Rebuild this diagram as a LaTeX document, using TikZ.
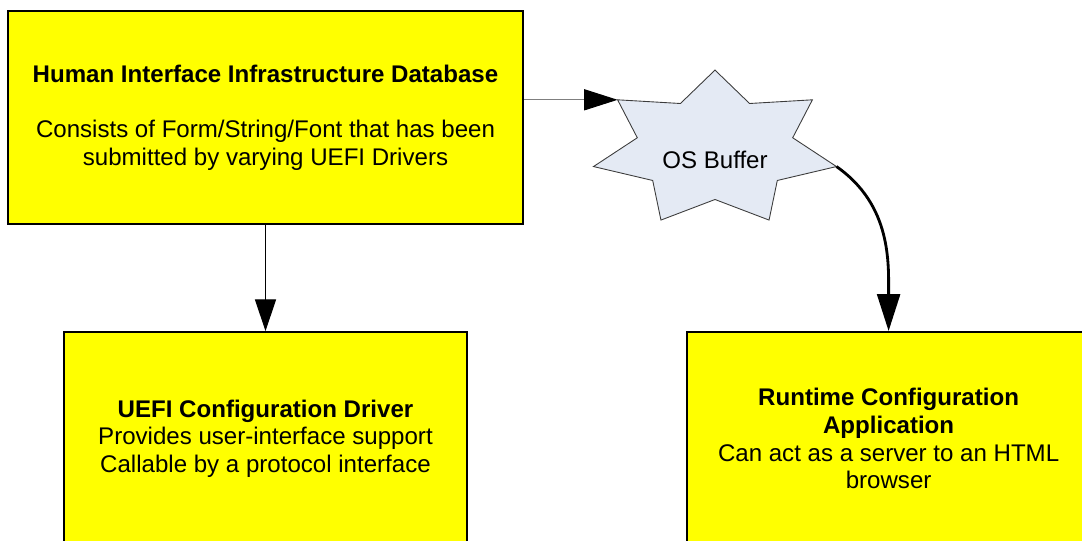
\documentclass[tikz,border=0pt]{standalone}
\usepackage{fontspec}
\setmainfont{Liberation Sans}
\usetikzlibrary{shapes.geometric, arrows.meta, positioning, calc}
\definecolor{amarillo}{HTML}{FFFF00}
\definecolor{azulclaro}{HTML}{E4EAF4}
\definecolor{grisborde}{HTML}{3C3C3C}
\definecolor{grislinea}{HTML}{7F7F7F}
\tikzset{
  caja/.style={rectangle, draw=black, line width=1.2pt, fill=amarillo, minimum width=8.06cm, minimum height=4.26cm,
               align=center, font=\fontsize{13.7}{15.7}\selectfont},
  cajaancha/.style={caja, minimum width=10.3cm},
  estrella/.style={draw=grisborde, line width=0.5pt, fill=azulclaro, line join=miter},
  texto/.style={font=\fontsize{13.7}{15.7}\selectfont, inner sep=0pt},
  flecha/.style={line width=0.6pt, -{Triangle[length=18pt, width=12pt]}},
  flechagris/.style={line width=0.6pt, color=grislinea, -{Triangle[length=19pt, width=12pt, color=black]}},
  flechacurva/.style={line width=1.6pt, -{Triangle[length=21pt, width=13pt]}}
}

\begin{document}
\begin{tikzpicture}[node distance=2.12cm]
  \useasboundingbox (0,0) rectangle (21.64,10.82);
  \clip (0,0) rectangle (21.64,10.82);
  \node (hii) [cajaancha] at (5.31,8.47) {\textbf{Human Interface Infrastructure Database}\\[15.7pt]
    Consists of Form/String/Font that has been\\ submitted by varying UEFI Drivers};
  \node (drv) [caja, below=of hii] {\textbf{UEFI Configuration Driver}\\ Provides user-interface support\\
    Callable by a protocol interface};
  \node (rca) [caja, right=4.36cm of drv] {\textbf{Runtime Configuration}\\ \textbf{Application}\\
    Can act as a server to an HTML\\ browser};
  % estrella de 7 puntas, achatada
  \coordinate (bufc) at (14.3,7.84);
  \foreach \k in {0,...,6} {
    \coordinate (po\k) at ($(bufc)+({2.492*cos(90+\k*360/7)},{1.578*sin(90+\k*360/7)})$);
    \coordinate (pi\k) at ($(bufc)+({1.594*cos(90+180/7+\k*360/7)},{1.01*sin(90+180/7+\k*360/7)})$);
  }
  \draw [estrella] (po0) -- (pi0) -- (po1) -- (pi1) -- (po2) -- (pi2) -- (po3) -- (pi3)
    -- (po4) -- (pi4) -- (po5) -- (pi5) -- (po6) -- (pi6) -- cycle;
  \node (buf) [texto] at ([yshift=-0.22cm]bufc) {OS Buffer};
  \draw [flecha] (hii) -- (drv);
  \draw [flechagris] (hii.east |- po1) -- (po1);
  \draw [flechacurva] (po5) to[out=-35, in=90] (rca.north);
\end{tikzpicture}
\end{document}
